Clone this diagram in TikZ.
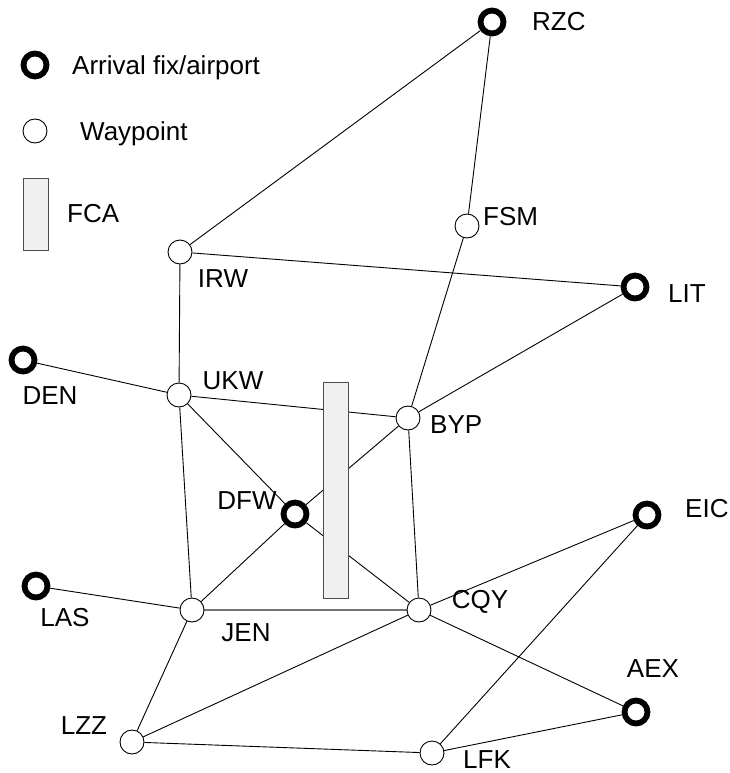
\documentclass[tikz,border=0pt]{standalone}
\usepackage{fontspec}
\setmainfont{Liberation Sans}
\pgfdeclarelayer{background}
\pgfsetlayers{background,main}
\tikzset{
	fix/.style={circle, draw, line width=5.8pt, fill=white, minimum size=23pt, inner sep=0pt},
	wpt/.style={circle, draw, line width=0.9pt, fill=white, minimum size=24pt, inner sep=0pt},
	fcabox/.style={rectangle, draw=black!70, line width=1pt, fill=black!6, inner sep=0pt},
	lbl/.style={inner sep=0pt, text height=18.6pt, text depth=0pt},
	route/.style={line width=0.9pt}
}
\begin{document}
\begin{tikzpicture}[x=1pt, y=-1pt, font=\fontsize{26}{30}\selectfont]
	\useasboundingbox (0,0) rectangle (729,773);
	
	%legend
	\node[fix] (legfix) at (35,65) {};
	\node[lbl, anchor=west] (legfixtxt) at (72,65) {Arrival fix/airport};
	\node[wpt] (legwpt) at (35,131) {};
	\node[lbl, anchor=west] (legwpttxt) at (80,131) {Waypoint};
	\node[fcabox, minimum width=25pt, minimum height=72pt] (legfca) at (35.5,214) {};
	\node[lbl, anchor=west] (legfcatxt) at (67,213) {FCA};
	
	%fca
	\node[fcabox, minimum width=25pt, minimum height=216pt] (fca) at (335.5,490) {};
	
	%arrival fixes
	\node[fix] (RZC) at (492,22) {};
	\node[fix] (LIT) at (635,287) {};
	\node[fix] (DEN) at (23,360) {};
	\node[fix] (DFW) at (295,514) {};
	\node[fix] (EIC) at (647,515) {};
	\node[fix] (LAS) at (36,586) {};
	\node[fix] (AEX) at (636,712) {};
	
	%waypoints
	\node[wpt] (FSM) at (467,226) {};
	\node[wpt] (IRW) at (180,252) {};
	\node[wpt] (UKW) at (179,395) {};
	\node[wpt] (BYP) at (408,418) {};
	\node[wpt] (JEN) at (192,610) {};
	\node[wpt] (CQY) at (419,610) {};
	\node[wpt] (LZZ) at (132,742) {};
	\node[wpt] (LFK) at (432,753) {};
	
	%names
	\node[lbl, anchor=west] (RZCtxt) at (532,21) {RZC};
	\node[lbl, anchor=west] (FSMtxt) at (483,216) {FSM};
	\node[lbl] (IRWtxt) at (223,278) {IRW};
	\node[lbl, anchor=west] (LITtxt) at (668,293) {LIT};
	\node[lbl] (DENtxt) at (50,395) {DEN};
	\node[lbl] (UKWtxt) at (233,380) {UKW};
	\node[lbl, anchor=west] (BYPtxt) at (430,424) {BYP};
	\node[lbl] (DFWtxt) at (247,500) {DFW};
	\node[lbl, anchor=west] (EICtxt) at (685,508) {EIC};
	\node[lbl] (LAStxt) at (65,617) {LAS};
	\node[lbl] (JENtxt) at (246,632) {JEN};
	\node[lbl] (CQYtxt) at (480,599) {CQY};
	\node[lbl] (AEXtxt) at (653,668) {AEX};
	\node[lbl] (LZZtxt) at (84,725) {LZZ};
	\node[lbl] (LFKtxt) at (487,759) {LFK};
	
	%routes
	\begin{pgfonlayer}{background}
		\foreach \a/\b in {RZC/IRW, RZC/FSM, FSM/BYP, IRW/LIT, IRW/UKW, DEN/UKW,
			UKW/BYP, UKW/JEN, UKW/DFW, DFW/CQY, LIT/BYP, BYP/DFW, DFW/JEN,
			BYP/CQY, LAS/JEN, JEN/LZZ, CQY/EIC, CQY/AEX, CQY/LZZ, LZZ/LFK,
			LFK/EIC, LFK/AEX}{
			\draw[route] (\a) -- (\b);
		}
		\draw[route, black!55, line width=1.6pt] (JEN) -- (CQY);
	\end{pgfonlayer}
\end{tikzpicture}
\end{document}
